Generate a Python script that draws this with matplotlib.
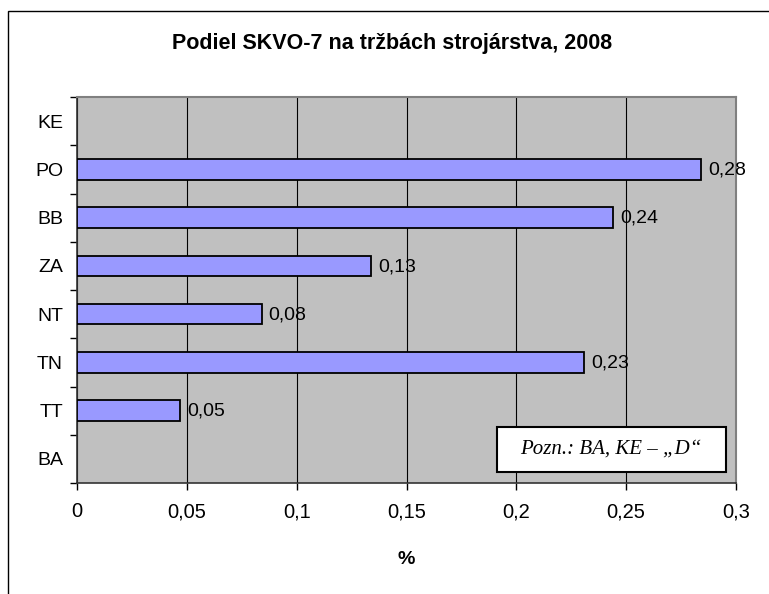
import matplotlib
matplotlib.use("Agg")
import numpy as np
import matplotlib.pyplot as plt
import matplotlib.patches as mpatches
import matplotlib.ticker as mticker

plt.rcParams['font.family'] = ['Liberation Sans', 'DejaVu Sans']

# ── data ─────────────────────────────────────────────────────────────────────
regions = ['BA', 'TT', 'TN', 'NT', 'ZA', 'BB', 'PO', 'KE']
shares = [None, 0.047, 0.231, 0.084, 0.134, 0.244, 0.284, None]
x_ticks = [0, 0.05, 0.1, 0.15, 0.2, 0.25, 0.3]
x_ticklabels = ['0', '0,05', '0,1', '0,15', '0,2', '0,25', '0,3']
title = 'Podiel SKVO-7 na tržbách strojárstva, 2008'
note = 'Pozn.: BA, KE – „D“'

W, H = 769, 594
fig = plt.figure(figsize=(W / 100, H / 100), dpi=100)
fig.patch.set_facecolor('white')

# chart border (Excel chart area)
fig.patches.append(mpatches.Rectangle((8 / W, -0.1), 1.2, (H - 11) / H + 0.1,
                                      transform=fig.transFigure, fill=False,
                                      edgecolor='black', linewidth=1.0))

left, right, top, bottom = 77, 736, 97, 483
ax = fig.add_axes([left / W, 1 - bottom / H, (right - left) / W, (bottom - top) / H])
ax.set_facecolor('#C0C0C0')

pos = np.arange(len(regions))
for p, v in zip(pos, shares):
    if v is None:
        continue
    ax.barh(p, v, height=0.42, color='#9999FF', edgecolor='black',
            linewidth=1.3, zorder=3)
    ax.annotate(f'{v:.2f}'.replace('.', ','), xy=(v, p), xytext=(5, -0.5),
                textcoords='offset points', va='center', ha='left',
                fontsize=14, color='black', zorder=4)

ax.set_xlim(0, 0.3)
ax.set_ylim(-0.5, len(regions) - 0.5)

ax.set_xticks(x_ticks)
ax.set_xticklabels(x_ticklabels, fontsize=14.5)
ax.grid(axis='x', color='black', linewidth=0.8, zorder=1)

# category labels centred, tick marks between categories
ax.yaxis.set_major_locator(mticker.FixedLocator(np.arange(-0.5, len(regions), 1)))
ax.yaxis.set_major_formatter(mticker.NullFormatter())
ax.yaxis.set_minor_locator(mticker.FixedLocator(pos))
ax.yaxis.set_minor_formatter(mticker.FixedFormatter(regions))
ax.tick_params(axis='y', which='major', direction='out', length=5, width=1)
ax.tick_params(axis='y', which='minor', length=0, pad=10, labelsize=14)
ax.tick_params(axis='x', direction='out', length=5, width=1, pad=9)

for s in ['top', 'right']:
    ax.spines[s].set_color('#808080')
    ax.spines[s].set_linewidth(1.5)
for s in ['left', 'bottom']:
    ax.spines[s].set_color('#333333')
    ax.spines[s].set_linewidth(1.2)

ax.set_xlabel('%', fontsize=14, fontweight='bold', labelpad=21)

fig.text(392 / W, 1 - 43 / H, title, ha='center', va='center',
         fontsize=15.5, fontweight='bold')

# note box
fig.patches.append(mpatches.Rectangle((497 / W, 1 - 472 / H), 229 / W, 45 / H,
                                      transform=fig.transFigure, facecolor='white',
                                      edgecolor='black', linewidth=1.5, zorder=6))
fig.text(611 / W, 1 - 449 / H, note, ha='center', va='center', fontsize=15,
         style='italic', family=['Liberation Serif', 'DejaVu Serif'], zorder=7)

fig.savefig('out.png', dpi=100)
